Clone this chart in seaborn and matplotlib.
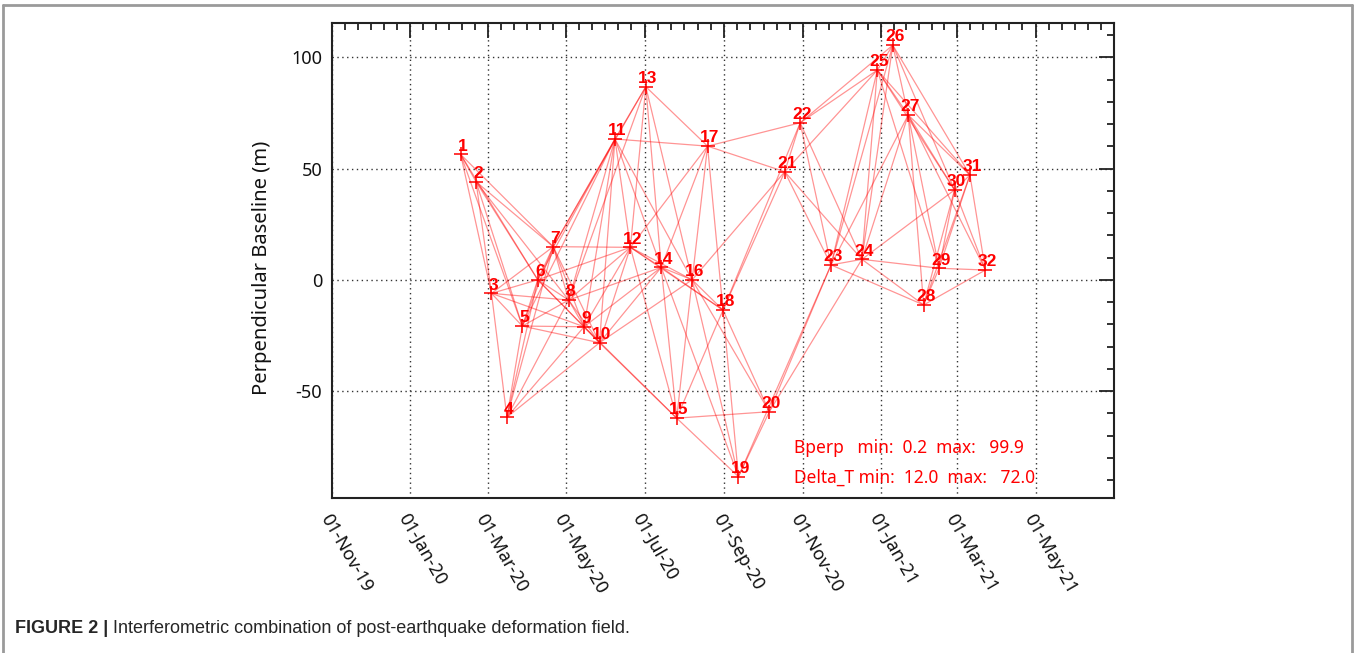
import numpy as np
import pandas as pd
import matplotlib
matplotlib.use("Agg")
import matplotlib.pyplot as plt
import matplotlib.dates as mdates
from matplotlib.ticker import MultipleLocator, FixedLocator
import seaborn as sns
import logging
logging.getLogger("matplotlib.font_manager").setLevel(logging.ERROR)

# ---------------- data ----------------
acq_ids = list(range(1, 33))
acq_dates = [
    "2020-02-09", "2020-02-21", "2020-03-04", "2020-03-16", "2020-03-28",
    "2020-04-09", "2020-04-21", "2020-05-03", "2020-05-15", "2020-05-27",
    "2020-06-08", "2020-06-20", "2020-07-02", "2020-07-14", "2020-07-26",
    "2020-08-07", "2020-08-19", "2020-08-31", "2020-09-12", "2020-10-06",
    "2020-10-18", "2020-10-30", "2020-11-23", "2020-12-17", "2020-12-29",
    "2021-01-10", "2021-01-22", "2021-02-03", "2021-02-15", "2021-02-27",
    "2021-03-11", "2021-03-23",
]
bperp = [
    56.4, 44.1, -6.1, -61.8, -20.8, 0.0, 14.9, -9.1, -21.1, -28.3,
    63.3, 14.6, 86.8, 5.6, -62.2, 0.0, 60.1, -13.6, -88.5, -59.3,
    48.6, 70.6, 6.7, 9.2, 94.3, 105.5, 74.1, -11.3, 5.2, 40.4,
    47.1, 4.4,
]
edge_from = [
    1, 1, 1, 1, 1,
    2, 2, 2, 2, 2,
    3, 3, 3, 3, 3, 3,
    4, 4, 4, 4, 4, 4,
    5, 5, 5, 5, 5, 5,
    6, 6, 6, 6, 6, 6,
    7, 7, 7, 7, 7, 7,
    8, 8, 8, 8, 8, 8,
    9, 9, 9, 9, 9,
    10, 10, 10, 10, 10,
    11, 11, 11, 11, 11,
    12, 12, 12, 12, 12, 12,
    13, 13, 13,
    14, 14, 14, 14, 14,
    15, 15, 15, 15,
    16, 16, 16, 16, 16,
    17, 17, 17,
    18, 18, 18, 18,
    19, 19,
    20, 20,
    21, 21, 21, 21,
    22, 22, 22, 22,
    23, 23, 23, 23, 23,
    24, 24, 24, 24, 24, 24,
    25, 25, 25, 25, 25,
    26, 26, 26,
    27, 27, 27, 27, 27,
    28, 28, 28, 28,
    29, 29, 29,
    30, 30,
    31,
]
edge_to = [
    2, 3, 5, 6, 7,
    3, 5, 6, 7, 8,
    4, 5, 6, 7, 8, 9,
    5, 6, 7, 8, 9, 10,
    6, 7, 8, 9, 10, 11,
    7, 8, 9, 10, 11, 12,
    8, 9, 10, 11, 12, 13,
    9, 10, 11, 12, 13, 14,
    10, 11, 12, 14, 15,
    11, 12, 14, 15, 16,
    12, 13, 14, 16, 17,
    13, 14, 15, 16, 17, 18,
    14, 16, 17,
    15, 16, 17, 18, 19,
    16, 18, 19, 20,
    17, 18, 19, 20, 21,
    18, 21, 22,
    19, 20, 21, 22,
    20, 23,
    23, 24,
    22, 23, 24, 25,
    23, 24, 25, 26,
    24, 25, 26, 27, 28,
    25, 26, 27, 28, 29, 30,
    26, 27, 29, 30, 31,
    27, 30, 31,
    28, 29, 30, 31, 32,
    29, 30, 31, 32,
    30, 31, 32,
    31, 32,
    32,
]
x_tick_dates = ["2019-11-01", "2020-01-01", "2020-03-01", "2020-05-01",
                "2020-07-01", "2020-09-01", "2020-11-01", "2021-01-01",
                "2021-03-01", "2021-05-01"]
x_tick_labels = ["01-Nov-19", "01-Jan-20", "01-Mar-20", "01-May-20",
                 "01-Jul-20", "01-Sep-20", "01-Nov-20", "01-Jan-21",
                 "01-Mar-21", "01-May-21"]
x_end_date = "2021-07-01"
y_ticks = [-50, 0, 50, 100]
info_lines = ["Bperp   min:  0.2  max:   99.9",
              "Delta_T min:  12.0  max:   72.0"]
y_label = "Perpendicular Baseline (m)"
caption_bold = "FIGURE 2 |"
caption_text = " Interferometric combination of post-earthquake deformation field."

# ---------------- build tables ----------------
nodes = pd.DataFrame({"id": acq_ids, "date": pd.to_datetime(acq_dates), "bperp": bperp})
rows = []
for k, (a, b) in enumerate(zip(edge_from, edge_to)):
    for n in (a, b):
        rows.append({"edge": k, "date": nodes.loc[n - 1, "date"],
                     "bperp": nodes.loc[n - 1, "bperp"]})
edges = pd.DataFrame(rows)

# ---------------- style ----------------
sns.set_style("white")
plt.rcParams["font.family"] = ["Noto Sans", "DejaVu Sans"]

fig = plt.figure(figsize=(13.55, 6.53), dpi=100)
ax = fig.add_axes([332 / 1355, 1 - 498 / 653, (1114 - 332) / 1355, (498 - 22.7) / 653])

red = "#ff0000"
sns.lineplot(data=edges, x="date", y="bperp", units="edge", estimator=None,
             sort=False, color=red, alpha=0.42, linewidth=0.9, ax=ax, legend=False)
sns.scatterplot(data=nodes, x="date", y="bperp", marker="+", s=90, color=red,
                linewidth=1.1, ax=ax, legend=False, zorder=4)

num_font = ["Liberation Sans Narrow", "Liberation Sans", "DejaVu Sans"]
for _, r in nodes.iterrows():
    ax.annotate(str(r["id"]), (r["date"], r["bperp"]), xytext=(1.5, 0.5),
                textcoords="offset points", ha="center", va="bottom",
                color=red, fontsize=12.5, fontweight="bold", family=num_font,
                zorder=5)

# axes limits & ticks
x0 = pd.Timestamp(x_tick_dates[0])
x1 = pd.Timestamp(x_end_date)
ax.set_xlim(x0, x1)
ax.set_ylim(-98.1, 115.6)

major_num = [mdates.date2num(pd.Timestamp(d)) for d in x_tick_dates]
bounds = major_num + [mdates.date2num(x1)]
minor_num = []
for a, b in zip(bounds[:-1], bounds[1:]):
    minor_num.extend(np.linspace(a, b, 7)[1:-1])
ax.xaxis.set_major_locator(FixedLocator(major_num))
ax.xaxis.set_minor_locator(FixedLocator(minor_num))
ax.set_xticklabels(x_tick_labels, rotation=-60, ha="left", va="top",
                   rotation_mode="anchor", fontsize=13, color="#111111")
ax.set_yticks(y_ticks)
ax.set_yticklabels([str(v) for v in y_ticks], fontsize=13, color="#111111")
ax.yaxis.set_minor_locator(MultipleLocator(10))

ax.tick_params(which="both", direction="in", top=True, right=True,
               color="#222222", width=1.3)
ax.tick_params(which="major", length=11, pad=7)
ax.tick_params(axis="x", which="major", pad=9)
ax.tick_params(which="minor", length=5)
for s in ax.spines.values():
    s.set_color("#222222")
    s.set_linewidth(1.5)
ax.grid(which="major", linestyle=(0, (1, 2.5)), color="#333333", linewidth=1.0)
ax.set_axisbelow(True)

ax.set_xlabel("")
ax.set_ylabel(y_label, fontsize=14.5, color="#111111")
ax.yaxis.set_label_coords(-0.077, 0.485)

# info text
ax.text(0.591, 0.095, info_lines[0], transform=ax.transAxes, color=red,
        fontsize=12.5, ha="left", va="baseline")
ax.text(0.591, 0.033, info_lines[1], transform=ax.transAxes, color=red,
        fontsize=12.5, ha="left", va="baseline")

# figure frame (left, top, right)
frame_kw = dict(color="#9a9a9a", linewidth=2.0, transform=fig.transFigure)
fig.add_artist(plt.Line2D([3 / 1355, 3 / 1355], [0, 1 - 5 / 653], **frame_kw))
fig.add_artist(plt.Line2D([3 / 1355, 1352 / 1355], [1 - 5 / 653, 1 - 5 / 653], **frame_kw))
fig.add_artist(plt.Line2D([1352 / 1355, 1352 / 1355], [0, 1 - 5 / 653], **frame_kw))

# caption
cap_font = ["Liberation Sans Narrow", "Liberation Sans", "DejaVu Sans"]
t1 = fig.text(15 / 1355, 1 - 633 / 653, caption_bold, fontsize=13, fontweight="bold",
              family=cap_font, ha="left", va="baseline")
fig.canvas.draw()
bb = t1.get_window_extent()
fig.text(bb.x1 / fig.bbox.width, 1 - 633 / 653, caption_text, fontsize=13,
         family=cap_font, ha="left", va="baseline")

fig.savefig("out.png", dpi=100)
